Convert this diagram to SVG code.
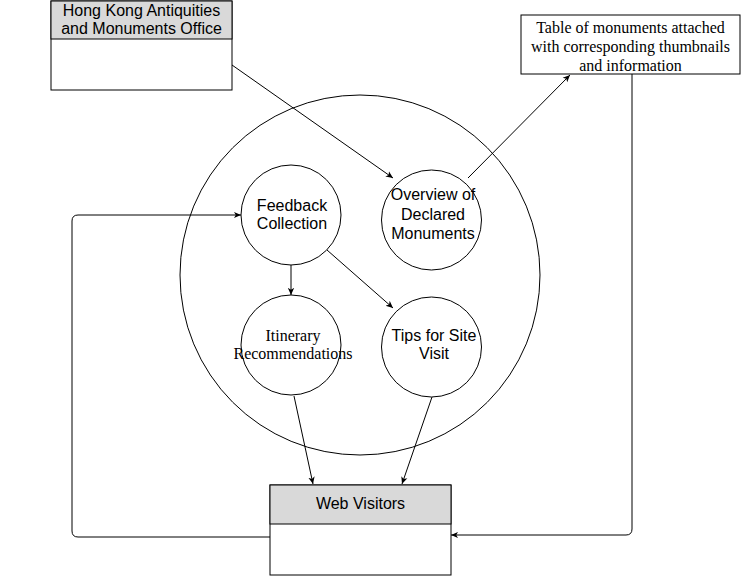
<svg xmlns="http://www.w3.org/2000/svg" width="743" height="576" viewBox="0 0 743 576">
<style>
.box{fill:#fff;stroke:#000;stroke-width:1}
.hdr{fill:#d9d9d9;stroke:#000;stroke-width:1}
.c{fill:#fff;stroke:#000;stroke-width:1}
.s{font-family:"Liberation Sans",Arial,sans-serif;font-size:16px;fill:#000;text-anchor:middle}
.t{font-family:"Liberation Serif","Times New Roman",serif;font-size:16px;fill:#000;text-anchor:middle}
.e{fill:none;stroke:#000;stroke-width:1;marker-end:url(#ah)}
</style>
<defs>
<marker id="ah" viewBox="0 0 10 10" refX="9" refY="5" markerWidth="8" markerHeight="8" markerUnits="userSpaceOnUse" orient="auto">
<path d="M0,1 L9,5 L0,9 L2.5,5 Z" fill="#000"/>
</marker>
</defs>
<rect width="743" height="576" fill="#fff"/>
<g id="boundary"><circle class="c" cx="360" cy="275" r="180"/></g>
<g id="hk-office">
<rect class="box" x="51" y="1" width="181" height="89"/>
<rect class="hdr" x="51" y="1" width="181" height="38"/>
<text class="s" x="141.5" y="16">Hong Kong Antiquities</text>
<text class="s" x="141.5" y="34">and Monuments Office</text>
</g>
<g id="table">
<rect class="box" x="521" y="15" width="219" height="59"/>
<text class="t" x="630.5" y="33">Table of monuments attached</text>
<text class="t" x="630.5" y="52">with corresponding thumbnails</text>
<text class="t" x="630.5" y="71">and information</text>
</g>
<g id="feedback">
<circle class="c" cx="291" cy="215" r="50"/>
<text class="s" x="292" y="211">Feedback</text>
<text class="s" x="292" y="229">Collection</text>
</g>
<g id="overview">
<circle class="c" cx="431.5" cy="220" r="50"/>
<text class="s" x="433" y="200">Overview of</text>
<text class="s" x="433" y="219.5">Declared</text>
<text class="s" x="433" y="239">Monuments</text>
</g>
<g id="itinerary">
<circle class="c" cx="291" cy="345" r="50"/>
<text class="t" x="293" y="341">Itinerary</text>
<text class="t" x="293" y="358.5">Recommendations</text>
</g>
<g id="tips">
<circle class="c" cx="431.5" cy="347" r="50"/>
<text class="s" x="434" y="341">Tips for Site</text>
<text class="s" x="434" y="359">Visit</text>
</g>
<g id="web-visitors">
<rect class="box" x="270" y="485" width="181" height="90"/>
<rect class="hdr" x="270" y="485" width="181" height="39"/>
<text class="s" x="360.5" y="509">Web Visitors</text>
</g>
<g id="connectors">
<path class="e" d="M232,65 L393,178"/>
<path class="e" d="M468,178 L570,75"/>
<path class="e" d="M291,265 L291,295"/>
<path class="e" d="M327,250 L393,308"/>
<path class="e" d="M294,396 L313,484"/>
<path class="e" d="M432,397 L402,484"/>
<path class="e" d="M270,537 L78,537 Q72,537 72,531 L72,221 Q72,215 78,215 L241,215"/>
<path class="e" d="M632,74 L632,529 Q632,535 626,535 L451,535"/>
</g>
</svg>
